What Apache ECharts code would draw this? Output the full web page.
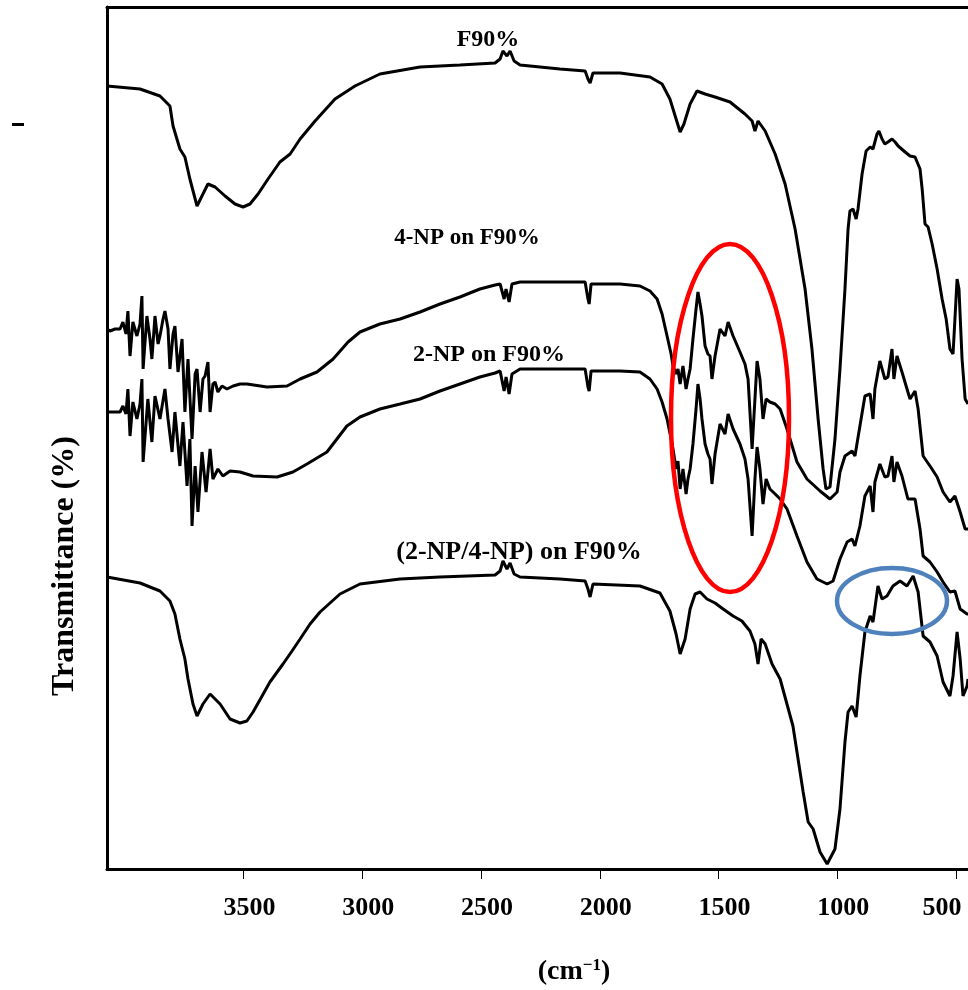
<!DOCTYPE html>
<html>
<head>
<meta charset="utf-8">
<script src="https://cdn.jsdelivr.net/npm/echarts@6/dist/echarts.min.js"></script>
<style>
html,body{margin:0;padding:0;background:#fff;}
#chart{width:968px;height:990px;}
</style>
</head>
<body>
<div id="chart"></div>
<script>
// wavenumber (cm-1), transmittance (arbitrary, stacked offsets)
var tickValues = [3500, 3000, 2500, 2000, 1500, 1000, 500];
var labels = ['F90%', '4-NP on F90%', '2-NP on F90%', '(2-NP/4-NP) on F90%'];

var f90 = [
  [4075,78.3],[3936,78.0],[3852,77.3],[3810,76.3],[3797,74.3],[3768,72.0],[3747,71.2],[3726,69.0],
  [3696,66.3],[3671,67.5],[3650,68.5],[3620,68.2],[3578,67.3],[3536,66.5],[3502,66.2],[3473,66.5],
  [3439,67.5],[3397,69.0],[3347,70.7],[3304,71.5],[3262,73.0],[3199,74.8],[3115,77.0],[3031,78.3],
  [2926,79.5],[2757,80.2],[2589,80.4],[2441,80.6],[2420,81.0],[2408,81.8],[2391,81.3],[2378,81.8],
  [2361,80.8],[2336,80.4],[2168,80.0],[2062,79.8],[2050,79.0],[2041,78.6],[2029,79.6],[1915,79.6],
  [1789,79.2],[1738,78.5],[1705,77.0],[1679,75.0],[1662,73.7],[1646,74.5],[1620,76.5],[1591,77.8],
  [1557,77.5],[1515,77.2],[1452,76.7],[1389,75.5],[1359,74.8],[1347,73.8],[1334,74.8],[1304,73.8],
  [1262,71.5],[1220,68.5],[1178,64.0],[1136,58.0],[1107,52.0],[1081,45.0],[1060,40.0],[1048,38.0],
  [1031,38.2],[1010,43.0],[989,50.0],[968,58.0],[955,64.0],[947,65.8],[934,66.0],[921,65.0],
  [913,66.0],[896,69.5],[879,71.8],[862,72.2],[850,72.0],[833,73.5],[825,73.8],[812,73.0],
  [800,72.5],[787,72.7],[770,73.0],[757,72.7],[744,72.3],[715,71.7],[694,71.3],[673,71.2],
  [652,70.0],[643,68.0],[631,64.5],[618,64.2],[601,62.5],[580,60.0],[559,57.0],[542,55.0],
  [526,52.0],[513,51.5],[505,55.0],[496,59.0],[488,58.0],[475,51.0],[462,47.0],[450,46.5]
];

var np4 = [
  [4075,54.0],[4062,53.8],[4041,54.0],[4020,54.0],[4008,54.7],[3995,53.5],[3987,55.8],[3978,51.3],
  [3966,54.7],[3949,53.3],[3936,54.5],[3928,57.3],[3923,50.0],[3907,55.3],[3894,53.0],[3886,51.0],
  [3873,55.3],[3860,52.5],[3852,53.3],[3839,55.0],[3831,55.8],[3818,54.0],[3810,50.0],[3797,53.5],
  [3789,54.3],[3776,49.7],[3759,53.0],[3747,45.7],[3734,51.0],[3717,43.0],[3704,49.5],[3696,50.0],
  [3683,45.7],[3671,49.0],[3662,49.3],[3650,50.7],[3641,45.7],[3629,48.5],[3620,48.7],[3608,47.7],
  [3591,48.3],[3570,48.0],[3544,48.3],[3515,48.5],[3486,48.5],[3401,48.2],[3317,48.3],[3262,49.0],
  [3191,49.7],[3123,51.0],[3060,52.7],[3010,53.7],[2926,54.5],[2841,55.0],[2757,55.7],[2673,56.5],
  [2589,57.2],[2505,58.0],[2441,58.4],[2420,58.5],[2403,57.0],[2395,58.0],[2382,56.7],[2370,58.5],
  [2336,58.7],[2210,58.7],[2062,58.7],[2050,57.0],[2045,56.5],[2037,58.5],[1999,58.5],[1915,58.5],
  [1831,58.3],[1789,57.8],[1759,57.0],[1738,55.5],[1717,53.3],[1700,51.5],[1692,50.3],[1679,49.5],
  [1671,50.0],[1662,48.5],[1650,50.3],[1637,48.0],[1629,49.0],[1620,50.0],[1608,53.0],[1595,56.0],
  [1587,57.7],[1578,56.5],[1570,55.3],[1557,52.3],[1545,51.5],[1536,51.3],[1528,49.0],[1515,51.3],
  [1494,54.0],[1473,53.3],[1460,54.7],[1439,53.3],[1410,51.7],[1389,50.5],[1376,49.0],[1359,42.0],
  [1347,47.0],[1338,50.8],[1326,49.0],[1313,45.0],[1300,47.0],[1284,46.7],[1262,46.5],[1241,46.0],
  [1212,44.0],[1170,40.7],[1128,39.0],[1073,37.8],[1031,37.0],[1001,37.7],[989,39.7],[968,41.3],
  [938,41.8],[926,41.3],[905,44.3],[884,47.3],[862,47.5],[850,45.0],[842,48.0],[821,50.8],
  [800,49.0],[787,49.2],[770,52.0],[762,49.0],[749,51.3],[728,49.7],[703,47.7],[694,47.0],
  [673,47.8],[660,46.0],[639,41.3],[610,40.3],[580,39.2],[555,37.7],[526,36.7],[505,37.3],
  [483,35.7],[462,34.0],[450,34.0]
];

var np2 = [
  [4075,45.7],[4062,45.7],[4020,45.7],[4008,46.3],[3995,45.5],[3987,48.0],[3978,43.3],[3966,46.7],
  [3949,45.0],[3936,46.5],[3928,49.0],[3923,40.7],[3903,47.0],[3886,42.7],[3873,47.3],[3852,45.0],
  [3831,48.0],[3818,45.0],[3801,41.7],[3789,45.7],[3768,40.3],[3755,44.7],[3738,38.3],[3726,43.0],
  [3717,34.3],[3704,40.3],[3692,35.7],[3675,41.7],[3658,37.7],[3641,42.0],[3629,39.0],[3608,40.0],
  [3587,39.3],[3557,39.8],[3515,39.7],[3460,39.3],[3359,39.2],[3292,39.7],[3233,40.5],[3149,41.7],
  [3065,44.3],[3010,45.2],[2926,46.0],[2841,46.5],[2757,47.0],[2673,47.8],[2589,48.5],[2505,49.2],
  [2441,49.6],[2420,49.8],[2403,47.8],[2395,49.2],[2382,47.5],[2370,49.5],[2336,50.0],[2062,50.0],
  [2050,48.2],[2045,47.8],[2037,49.8],[1915,49.8],[1831,49.7],[1789,49.0],[1759,48.0],[1738,46.7],
  [1717,45.0],[1700,43.0],[1692,42.0],[1679,40.0],[1671,40.8],[1662,38.0],[1650,40.0],[1637,37.5],
  [1629,39.0],[1620,40.0],[1608,42.5],[1595,46.0],[1587,48.5],[1578,47.0],[1570,45.0],[1557,42.5],
  [1545,41.5],[1536,41.0],[1528,38.5],[1515,41.5],[1494,44.5],[1473,43.5],[1460,45.5],[1439,44.0],
  [1410,42.5],[1389,41.0],[1376,39.0],[1359,33.3],[1347,39.0],[1338,42.2],[1326,40.0],[1313,36.5],
  [1300,39.0],[1284,38.0],[1262,37.5],[1241,37.0],[1212,36.0],[1170,33.3],[1128,30.7],[1086,29.0],
  [1043,28.5],[1018,28.8],[989,31.0],[959,32.7],[938,33.0],[926,32.3],[905,34.3],[884,37.3],
  [862,38.3],[850,35.7],[842,38.7],[821,40.5],[800,39.2],[787,39.3],[770,41.3],[762,38.7],
  [749,40.7],[728,39.3],[703,37.0],[673,37.0],[652,34.0],[639,31.3],[610,30.7],[580,29.7],
  [555,28.7],[526,27.7],[505,27.8],[483,26.0],[454,25.5],[450,25.5]
];

var mix = [
  [4075,29.2],[3936,28.6],[3852,27.8],[3810,26.8],[3789,25.5],[3768,23.0],[3747,21.0],[3734,19.0],
  [3713,16.5],[3696,15.3],[3671,16.5],[3641,17.5],[3599,16.5],[3557,15.0],[3515,14.6],[3486,14.8],
  [3460,15.7],[3422,17.3],[3389,18.7],[3334,20.5],[3296,21.8],[3262,23.0],[3220,24.5],[3178,25.7],
  [3094,27.5],[3010,28.5],[2841,29.0],[2673,29.2],[2441,29.4],[2420,29.8],[2408,30.8],[2391,30.0],
  [2378,30.6],[2361,29.5],[2336,29.2],[2168,29.0],[2062,28.8],[2050,28.0],[2041,27.2],[2029,28.5],
  [1831,28.3],[1747,27.6],[1705,25.8],[1679,23.5],[1662,21.5],[1641,23.0],[1620,26.0],[1599,27.5],
  [1578,27.7],[1549,27.0],[1515,26.6],[1481,26.0],[1439,25.3],[1402,24.8],[1368,23.8],[1347,22.5],
  [1334,20.5],[1321,23.0],[1304,22.5],[1275,20.5],[1241,19.0],[1187,14.3],[1144,7.7],[1123,4.7],
  [1102,4.0],[1073,1.7],[1043,0.5],[1010,2.0],[989,6.0],[968,12.7],[955,15.7],[938,16.3],
  [921,15.2],[905,19.3],[884,23.7],[862,25.3],[850,24.7],[829,28.3],[812,27.0],[791,27.3],
  [766,28.3],[736,28.8],[707,28.3],[681,29.3],[660,27.7],[639,23.3],[610,22.7],[580,21.3],
  [555,18.7],[526,17.3],[513,19.3],[496,23.7],[483,21.0],[471,17.3],[454,18.3],[450,19.0]
];

var FONT = 'Liberation Serif';
var chart = echarts.init(document.getElementById('chart'));

function spectrum(name, data) {
  return {
    name: name,
    type: 'line',
    data: data,
    showSymbol: false,
    symbol: 'none',
    smooth: false,
    clip: true,
    lineStyle: { color: '#000', width: 3 },
    animation: false
  };
}

function tag(text, x, y, size) {
  return { type: 'text', x: x, y: y,
    style: { text: text, fill: '#000', font: 'bold ' + size + 'px ' + FONT, textAlign: 'center', textVerticalAlign: 'middle' } };
}

var option = {
  backgroundColor: '#fff',
  animation: false,
  grid: { left: 107, right: 0, top: 7, bottom: 121, containLabel: false, outerBoundsMode: 'none' },
  xAxis: [{
    type: 'value',
    inverse: true,
    min: 450,
    max: 4075,
    axisLine: { show: true, lineStyle: { color: '#000', width: 3 } },
    axisTick: { show: true, customValues: tickValues, length: 10, lineStyle: { color: '#000', width: 1 } },
    axisLabel: {
      show: true, customValues: tickValues, margin: 26,
      color: '#000', fontFamily: FONT, fontWeight: 'bold', fontSize: 26,
      formatter: function (v) { return v === 500 ? '{e|' + v + '}' : '{n|' + v + '}'; },
      rich: {
        n: { fontFamily: FONT, fontWeight: 'bold', fontSize: 26, color: '#000', padding: [0, 0, 0, 12] },
        e: { fontFamily: FONT, fontWeight: 'bold', fontSize: 26, color: '#000', padding: [0, 28, 0, 0] }
      }
    },
    splitLine: { show: false }
  }, {
    type: 'value',
    position: 'top',
    inverse: true,
    min: 450,
    max: 4075,
    axisLine: { show: true, lineStyle: { color: '#000', width: 3 } },
    axisTick: { show: false },
    axisLabel: { show: false },
    splitLine: { show: false }
  }],
  yAxis: {
    type: 'value',
    min: 0,
    max: 86.2,
    axisLine: { show: true, lineStyle: { color: '#000', width: 3 } },
    axisTick: { show: false },
    axisLabel: { show: false },
    splitLine: { show: false }
  },
  series: [
    spectrum(labels[0], f90),
    spectrum(labels[1], np4),
    spectrum(labels[2], np2),
    spectrum(labels[3], mix)
  ],
  graphic: [
    tag(labels[0], 488, 40, 24),
    tag(labels[1], 467, 238, 23),
    tag(labels[2], 489, 355, 24),
    tag(labels[3], 519, 552, 26),
    { type: 'ellipse', shape: { cx: 730, cy: 418, rx: 59, ry: 174 }, style: { fill: 'none', stroke: '#ff0000', lineWidth: 4.5 }, z: 10 },
    { type: 'ellipse', shape: { cx: 892, cy: 601, rx: 55, ry: 33 }, style: { fill: 'none', stroke: '#4f81bd', lineWidth: 4.5 }, z: 10 },
    { type: 'line', shape: { x1: 12, y1: 124.5, x2: 24, y2: 124.5 }, style: { stroke: '#000', lineWidth: 3 } },
    { type: 'text', x: 65, y: 566, rotation: Math.PI / 2,
      style: { text: 'Transmittance (%)', fill: '#000', font: 'bold 32px ' + FONT, textAlign: 'center', textVerticalAlign: 'middle' } },
    { type: 'text', x: 574, y: 972,
      style: {
        text: '(cm{s|\u22121})', fill: '#000', font: 'bold 28px ' + FONT, textAlign: 'center', textVerticalAlign: 'middle',
        rich: { s: { fontSize: 17, fontWeight: 'bold', fontFamily: FONT, verticalAlign: 'top', padding: [0, 0, 12, 0] } }
      } }
  ]
};
chart.setOption(option);
</script>
</body>
</html>
